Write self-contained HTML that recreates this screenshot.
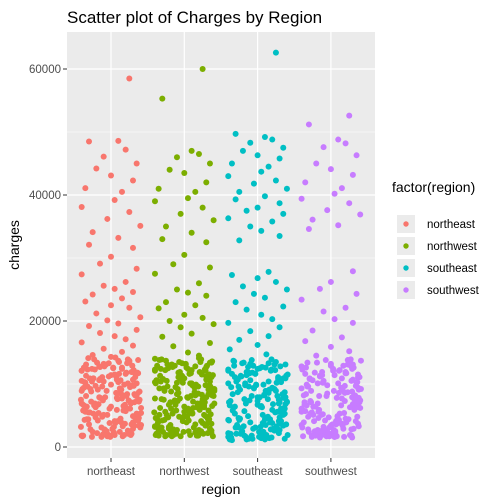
<!DOCTYPE html>
<html><head><meta charset="utf-8"><style>
body{margin:0;background:#fff}
svg{font-family:"Liberation Sans",Arial,sans-serif;display:block}
</style></head><body>
<svg id="c" width="499" height="503">
<text x="67" y="23" font-size="17" fill="#000">Scatter plot of Charges by Region</text>
<rect x="67" y="32" width="308" height="426" fill="#ebebeb"/>
<g id="grid"></g><g id="pts"></g><g id="axes"></g>
<text x="221" y="494" font-size="14" text-anchor="middle">region</text>
<text transform="translate(19,245) rotate(-90)" font-size="14" text-anchor="middle">charges</text>
<g id="legend">
<text x="392" y="192" font-size="14">factor(region)</text>
</g>
</svg>
<script>
const categories=["northeast","northwest","southeast","southwest"];
const colors=["#F8766D","#7CAE00","#00BFC4","#C77CFF"];
const yTicks=[0,20000,40000,60000];
const yMinor=[10000,30000,50000];
const yTickLabels=["0","20000","40000","60000"];
const J=[.25,-.3,.1,.2,-.1,.35,-.2,.0,.3,-.35,.15,.05,-.4,.25,-.05,.4,-.25,.1,-.3,.3,.0,-.15,.35,-.4,.2,-.1,.05,.3,-.25,.15,-.35,.0,.25,-.2,.4,-.05,.1,-.3,.35,-.15,.05,.2,-.4,.3,-.1,.15,-.25,.0,-.38,.12,-.05,.31,-.22,.4,-.15,.07,-.33,.25,.02,-.27,.36,-.1,.18,-.4,.29,-.02,.14,-.35,.21,.38,-.19,-.07,.09,.33,-.29,.26,-.13,.03,-.37,.16,-.24,.39,.05,-.31,.23,-.08,.11,.35,-.18,.28,-.4,.0,.19,-.26,.32,-.12,.37,-.03,.24,-.34,.08,-.21,.3,.15,-.39,.41,-.16,.06,-.28,.2,.34,-.06,-.23,.27,-.36,.1,.38,-.11,.17,-.32,.04,.29,-.17,.37,-.09,.22,-.41,.13,-.24,.33,-.01,.27,-.37,.08,.39,-.14,.19,-.29,.01,.32,-.21,.11,-.34,.24,-.04,.36,-.19,.06,-.39,.2,-.11,.28,-.26,.14,.4,-.07,-.31,.09];
const neHigh=[58.5,48.5,48.6,47.2,46.1,45,44.2,43.1,42.3,41.1,40.5,39.2,38.1,37.3,36.2,35.1,34.1,33.2,32.1,31.6,30.2,29.1,28.3,27.4,26.2,25.6,25.1,24.6,24.2,23.6,23.1,22.5,22.1,21.2,20.6,20.1,19.6,19.2,18.6,18.1,17.6,17.1,16.6,16.1,15.6,15.1,14.6,14.3];
const nwHigh=[60,55.3,47,46.5,46,45,44,43.5,42,41,40.5,39.5,39,38,37,36,35,34,33,32.5,30.5,29,28.5,27.5,26,25,24.5,24,23,22.5,22,21,20.5,20,19.5,19,18,17.5,16.5,16,15,14.5,14];
const seHigh=[62.6,49.7,49.2,48.8,48.3,47.5,47,46.3,45.8,45,44.5,43.7,43,42.3,41.8,41,40.5,39.8,39.3,38.7,38,37.5,37,36.3,35.8,35,34.3,33.5,32.8,27.8,27.3,26.8,26.2,25.5,25,24.3,23.7,23,22.3,21.8,21,20.3,19.7,19,18.4,17.6,17,16.2,15.5,14.7];
const swHigh=[52.6,51.2,48.8,48.2,47.6,46.3,45,44.1,43.2,42,41.1,40.2,39.4,38.7,37.6,36.9,36.1,35.2,34.6,27.9,26.2,25.1,24.3,23.4,22.1,21.5,20.3,19.7,18.5,17.4,16.8,15.9,15.2,14.5];
const neLow=[1.8,2.4,5.1,9.7,12.3,3.3,7.8,11.2,6.4,13.6,2.9,8.8,4.7,10.4,1.9,6.9,12.9,3.8,9.1,5.6,11.8,7.2,2.2,13.1,4.1,8.3,10.9,6.1,3.1,12.6,9.4,1.7,5.3,7.5,11.5,4.4,13.9,2.6,8.6,10.1,6.7,3.6,12.1,9.9,5.9,1.6,7.1,11.1,4.9,13.3,2.1,8.1,10.7,6.3,3.9,12.4,9.2,5.4,7.9,14.2,2.8,11.6,4.3,8.9,6.6,1.9,10.3,13.7,3.4,7.4,5.8,9.6,2.3,11.9,6.8,4.2,12.8,8.4,3.2,10.6];
const neLow2=[3.6,8.2,12.7,1.9,6.3,10.5,4.9,13.2,7.7,2.4,11.4,5.8,9.3,1.7,12.2,6.9,3.1,10.8,8.6,4.4,13.7,2.8,7.2,11.8,5.1,9.9,1.8,12.9,6.1,3.9,10.2,8.1,4.6,13.4,2.2,7.6,11.1,5.5,9.5,1.6,12.5,6.6,3.3,10.9,8.8,4.1,14.1,2.6,7.9,11.6,5.3,9.1,2.1,12.1,6.4,3.7,10.4,8.4,4.8,13.8,1.9,7.4,11.3,5.9,9.7,2.9,12.6,6.8,3.5,10.6];
const neLow3=[5.5,10.1,2.7,13.5,7.3,4.2,11.9,8.9,1.8,6.7,12.4,3.4,9.6,5.2,11.2,2.3,13.1,7.8,4.7,10.7,8.3,1.7,6.2,12.8,3.8,9.2,5.7,11.5,2.5,13.9,7.1,4.3,10.3,8.7,2.0,6.5,12.3,3.2,9.8,5.4,11.7,2.8,13.3,7.5,4.5,10.9,8.2,1.6,6.9,12.6];
const nwLow=[2.1,6.2,10.8,3.7,12.5,8.1,1.9,5.4,11.3,7.6,13.2,4.3,9.5,2.7,6.9,12.1,3.4,10.2,8.7,1.8,5.9,13.6,7.1,4.8,11.7,9.1,2.4,6.5,12.9,3.9,10.5,8.3,5.1,1.7,7.8,13.9,4.1,11.1,9.8,2.9,6.1,12.3,3.2,10.9,8.5,5.6,2.2,7.3,13.4,4.6,11.5,9.3,1.9,6.7,12.7,3.6,10.1,8.9,5.3,2.5,7.5,14.1,4.4,11.9,9.6,6.3,3.1,12.2,8.2,5.8,1.8,10.4,7.9,4.9,13.1,2.6,9.2,6.6];
const nwLow2=[4.2,9.7,1.9,12.4,6.8,3.3,11.2,8.4,2.3,13.7,5.6,10.6,7.2,1.7,12.9,4.7,9.1,2.8,11.6,6.2,3.8,13.1,8.9,5.2,10.2,1.8,7.7,12.1,4.1,9.4,2.6,11.9,6.5,3.5,13.5,8.1,5.8,10.8,2.1,7.4,12.6,4.4,9.9,1.9,11.4,6.1,3.1,13.9,8.6,5.4,10.4,2.4,7.1,12.3,4.9,9.6,1.7,11.1,6.7,3.7,13.3,8.3,5.1,10.1,2.9,7.9,12.8,4.6,9.2,2.2];
const nwLow3=[7.6,2.5,11.8,5.3,13.4,8.8,3.6,10.3,6.4,1.8,12.2,4.5,9.5,2.2,11.3,7.1,13.8,5.7,3.2,10.7,8.2,1.9,6.9,12.7,4.2,9.3,2.7,11.5,7.7,13.1,5.1,3.8,10.1,8.6,2.1,6.3,12.4,4.8,9.8,1.7,11.1,7.3,13.5,5.5,3.1,10.5,8.4,2.4,6.6,12.9];
const seLow=[1.2,4.6,9.3,12.8,2.3,7.1,11.4,3.8,6.2,13.5,1.6,8.7,5.2,10.6,2.8,12.1,4.1,9.9,7.6,1.1,6.8,13.1,3.3,11.8,8.2,5.7,2.1,10.2,4.9,12.5,7.3,1.4,9.1,3.6,6.5,11.1,2.6,13.8,8.9,5.1,1.8,10.8,4.3,7.9,12.3,3.1,6.1,9.6,1.3,11.6,5.5,8.4,2.4,13.3,4.7,10.4,7.1,1.9,6.9,12.7,3.5,9.4,5.9,2.9,11.3,8.1,1.5,4.4,10.9,7.4,3.9,12.9,6.4,2.2,9.8,5.3];
const seLow2=[3.1,7.8,11.9,1.4,5.9,10.1,2.7,13.2,8.6,4.3,12.4,6.6,1.9,9.4,3.7,11.2,7.2,1.2,5.1,13.7,8.9,2.4,10.7,6.2,3.9,12.1,1.6,7.5,9.8,4.8,11.6,2.9,6.8,13.4,1.3,8.3,5.4,10.4,3.3,12.7,7.9,2.1,9.1,4.5,11.3,1.7,6.4,13.1,8.1,3.5,10.9,5.7,2.6,12.3,7.3,1.5,9.6,4.1,11.8,6.1];
const seLow3=[5.3,9.2,1.8,12.6,3.4,7.6,11.1,2.2,6.7,13.9,4.6,10.3,1.3,8.7,3.1,12.2,5.8,9.9,2.5,7.1,13.3,4.2,11.5,1.6,6.3,10.8,3.8,8.4,12.9,2.1,5.6,9.5,1.2,7.9,11.7,4.4,13.6,3.2,6.9,10.1];
const swLow=[1.7,5.3,9.8,12.6,2.5,7.4,11.2,3.6,6.6,13.3,2.1,8.9,4.8,10.5,1.6,6.1,12.4,3.1,9.4,5.7,11.7,7.8,2.3,13.8,4.4,8.2,10.9,6.3,1.9,12.1,3.9,9.1,5.1,7.1,11.4,2.8,13.1,4.2,8.6,10.2,6.9,1.8,12.8,3.4,9.7,5.5,7.6,2.6,11.1,4.7,13.5,8.4,1.7,6.4,10.7,3.7,12.3,9.2,5.9,2.2,7.3,11.9,4.1,8.1,1.9,13.9,6.7,10.1,3.3,5.2,12.9,9.6,2.7,7.9,4.6,11.5];
const swLow2=[2.4,6.9,11.3,1.6,4.5,9.3,13.1,3.2,7.7,10.6,1.8,5.8,12.2,8.5,2.9,11.8,6.2,1.5,4.1,9.9,13.6,3.6,7.1,10.3,2.1,5.4,12.7,8.8,1.7,6.6,11.6,3.9,9.1,13.4,2.6,4.9,7.5,10.8,1.9,5.1,12.4,8.2,3.4,6.4,11.1,1.6,9.6,13.8,2.3,4.3,7.9,10.1,2.8,5.6,12.9,8.6,1.8,6.1,11.9,3.7];
const swLow3=[4.8,8.7,1.9,12.1,6.5,2.7,10.5,3.5,13.2,7.3,1.6,5.9,11.4,9.4,2.2,4.4,12.6,7.8,1.8,6.8,10.9,3.1,13.7,8.1,2.5,5.3,11.7,9.7,1.7,4.1,12.9,7.1,3.8,6.3,10.2,2.9,13.4,8.9,1.5,5.6];
const series=[
 [neHigh,neLow,neLow2,neLow3],
 [nwHigh,nwLow,nwLow2,nwLow3],
 [seHigh,seLow,seLow2,seLow3],
 [swHigh,swLow,swLow2,swLow3]];

const X0=111,DX=73.3,Y0=447,YS=378/60000;
const xs=(i,j)=>X0+(i+j)*DX;
const ys=v=>Y0-v*YS;
const NS="http://www.w3.org/2000/svg";
function mk(t,a,p){const e=document.createElementNS(NS,t);for(const k in a)e.setAttribute(k,a[k]);p.appendChild(e);return e;}
const grid=document.getElementById('grid'),axes=document.getElementById('axes'),pts=document.getElementById('pts'),leg=document.getElementById('legend');
yMinor.forEach(v=>{const l=mk('line',{x1:67,x2:375,y1:ys(v),y2:ys(v),stroke:'#fff','stroke-width':0.6},grid);

});
yTicks.forEach((v,k)=>{const l=mk('line',{x1:67,x2:375,y1:ys(v),y2:ys(v),stroke:'#fff','stroke-width':1.2},grid);


const t=mk('line',{x1:63,x2:67,y1:ys(v),y2:ys(v),stroke:'#333','stroke-width':1},axes);


const tx=mk('text',{x:61,y:ys(v)+4,'font-size':11.5,'text-anchor':'end',fill:'#4d4d4d'},axes);tx.textContent=yTickLabels[k];

});
const offs=[0,0,37,83];
categories.forEach((c,i)=>{const x=xs(i,0);
const l=mk('line',{x1:x,x2:x,y1:32,y2:458,stroke:'#fff','stroke-width':1.2},grid);


const t=mk('line',{x1:x,x2:x,y1:458,y2:462,stroke:'#333'},axes);


const tx=mk('text',{x:x,y:475,'font-size':11.5,'text-anchor':'middle',fill:'#4d4d4d'},axes);tx.textContent=c;


series[i].forEach((arr,a)=>{arr.forEach((v,k)=>{
 const jj=J[(k+offs[a]+(a===1?48:0))%J.length];
 const p=mk('circle',{cx:xs(i,jj),cy:ys(v*1000),r:3,fill:colors[i]},pts);
 
 });});
const y=224+i*22;
const r=mk('rect',{x:397,y:y-9,width:18,height:18,fill:'#ebebeb'},leg);


const d=mk('circle',{cx:406,cy:y,r:2.7,fill:colors[i]},leg);


const lt=mk('text',{x:427,y:y+4,'font-size':11.5,fill:'#000'},leg);lt.textContent=c;

});
</script>
</body></html>
